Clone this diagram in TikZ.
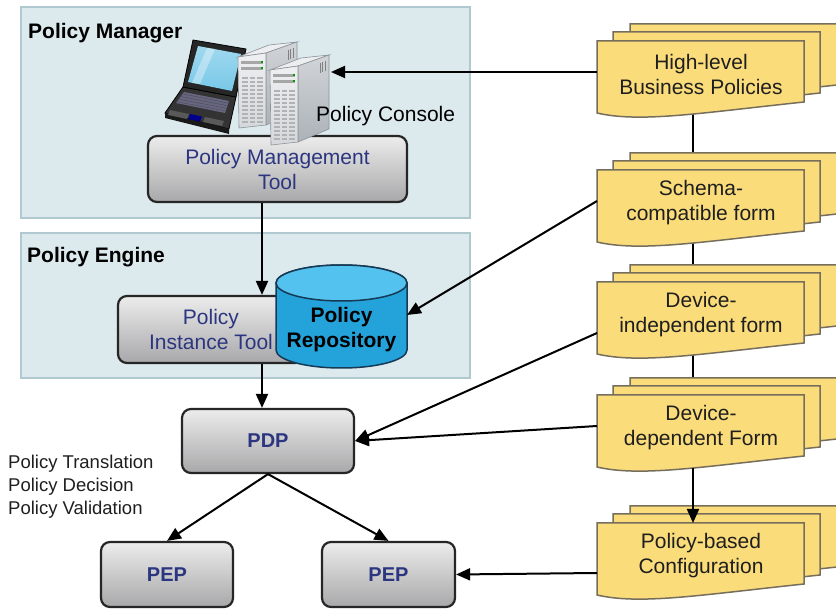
\documentclass[tikz,border=0pt]{standalone}
\usepackage{fontspec}
\setmainfont{Liberation Sans}
\usetikzlibrary{arrows.meta}

\definecolor{groupfill}{RGB}{220,233,237}
\definecolor{groupline}{RGB}{176,201,208}
\definecolor{boxtop}{RGB}{236,236,236}
\definecolor{boxbot}{RGB}{168,168,170}
\definecolor{boxline}{RGB}{38,38,38}
\definecolor{navytext}{RGB}{44,54,128}
\definecolor{docfill}{RGB}{250,220,122}
\definecolor{docline}{RGB}{118,110,92}
\definecolor{cylside}{RGB}{36,162,218}
\definecolor{cyllight}{RGB}{100,204,242}
\definecolor{cyltop}{RGB}{84,194,238}
\definecolor{cylline}{RGB}{22,58,86}
\definecolor{srvfront}{RGB}{212,216,220}
\definecolor{srvside}{RGB}{172,178,184}
\definecolor{srvtop}{RGB}{236,238,240}
\definecolor{srvline}{RGB}{140,146,152}
\definecolor{scrn}{RGB}{120,200,232}

\pgfdeclarelayer{bg}
\pgfsetlayers{bg,main}

\tikzset{
  group/.style={draw=groupline, fill=groupfill, line width=1.2pt, inner sep=0},
  grouplabel/.style={font=\fontsize{21}{25}\selectfont\bfseries, anchor=base west, inner sep=0},
  toolbox/.style={draw=boxline, line width=2.2pt, rounded corners=9pt,
    top color=boxtop, bottom color=boxbot, inner sep=0, align=center,
    text=navytext, font=\fontsize{21}{25}\selectfont},
  doclayer/.style={draw=docline, fill=docfill, line width=1.5pt},
  doctext/.style={align=center, font=\fontsize{21}{25}\selectfont, text=black!88},
  flow/.style={line width=2pt, -{Triangle[length=14pt,width=12pt]}},
  link/.style={line width=2pt},
}

% A stack of three document sheets; #1 name, #2 top edge, #3 text,
% #4 offset of the left connector point below the top edge
\newcommand\docstack[4]{%
  \foreach \dx/\dy in {33/-17,16/-9,0/0}{
    \draw[doclayer, shift={(597+\dx,#2+\dy)}]
      (0,0) -- (207,0) -- (207,61) .. controls (103,72) and (43,82) .. (0,72) -- cycle;
  }
  \node[doctext] (#1) at (701,#2+33) {#3};
  \coordinate (#1-top) at (693,#2);
  \coordinate (#1-back) at (693,#2-17);
  \coordinate (#1-bot) at (693,#2+73);
  \coordinate (#1-w) at (597,#2+#4);
}

\begin{document}
\begin{tikzpicture}[x=1pt,y=-1pt]
\useasboundingbox (0,0) rectangle (836,609);
\clip (0,0) rectangle (836,609);
\begin{pgfonlayer}{bg}
  \fill[white] (0,0) rectangle (836,609);
\end{pgfonlayer}

% group panels
\node[group, minimum width=449pt, minimum height=211pt] (manager) at (245.5,112.5) {};
\node[grouplabel] (managerlabel) at (28,39) {Policy Manager};
\node[group, minimum width=449pt, minimum height=145pt] (engine) at (245.5,305.5) {};
\node[grouplabel] (enginelabel) at (27,263) {Policy Engine};

% document stacks on the right
\docstack{highlevel}{41}{High-level\\Business Policies}{31}
\docstack{schema}{170}{Schema-\\compatible form}{31}
\docstack{indep}{282}{Device-\\independent form}{51}
\docstack{dep}{395}{Device-\\dependent Form}{31}
\docstack{config}{523}{Policy-based\\Configuration}{50}

% links between the document stacks (behind the sheets)
\begin{pgfonlayer}{bg}
  \draw[link] (highlevel-bot) -- (schema-back);
  \draw[link] (schema-bot) -- (indep-back);
  \draw[link] (indep-bot) -- (dep-back);
\end{pgfonlayer}
\draw[flow] (dep-bot) -- (config-top);

% tool boxes
\node[toolbox, minimum width=259pt, minimum height=66pt] (pmt) at (277.5,169) {Policy Management\\Tool};
\node[toolbox, minimum width=186pt, minimum height=67pt] (pit) at (211,329.5) {Policy\\Instance Tool};
\node[toolbox, minimum width=172pt, minimum height=64pt, font=\fontsize{20}{25}\selectfont\bfseries] (pdp) at (268,441) {PDP};
\node[toolbox, minimum width=132pt, minimum height=65pt, font=\fontsize{20}{25}\selectfont\bfseries] (pep1) at (167,574.5) {PEP};
\node[toolbox, minimum width=133pt, minimum height=65pt, font=\fontsize{20}{25}\selectfont\bfseries] (pep2) at (388.5,574.5) {PEP};

% policy repository cylinder
\path[draw=cylline, line width=1.5pt, left color=cylside, middle color=cyllight, right color=cylside]
  (276,283) -- (276,350) arc[start angle=180, end angle=0, x radius=65.5, y radius=18]
  -- (407,283) arc[start angle=0, end angle=-180, x radius=65.5, y radius=18] -- cycle;
\draw[draw=cylline, fill=cyltop, line width=1.5pt] (341.5,283) ellipse[x radius=65.5, y radius=18];
\node[align=center, font=\fontsize{21}{25}\selectfont\bfseries, inner sep=0] (repo) at (341.5,330) {Policy\\Repository};
\coordinate (repo-e) at (407,315);

% laptop
\filldraw[fill=black!80, draw=black, line width=0.8pt] (183,87) -- (236,97) -- (229,129) -- (165,113) -- cycle;
\fill[black!90] (165,113) -- (229,129) -- (229,134) -- (165,118) -- cycle;
\fill[black!45!blue!20!gray] (184,92) -- (229,101) -- (225,113) -- (176,103) -- cycle;
\foreach \k in {0,1,2,3}{
  \draw[black!70, line width=0.4pt] (183-2*\k,94+2.6*\k) -- (228-1*\k,103+2.6*\k);
}
\fill[black!30!gray] (170,110) -- (189,114) -- (187,119) -- (168,115) -- cycle;
\fill[black!30!gray] (205,117) -- (224,121) -- (222,126) -- (203,122) -- cycle;
\fill[blue!55!black] (190,114) -- (202,116.5) -- (200,121.5) -- (188,119) -- cycle;
\filldraw[fill=black!85, draw=black, line width=0.8pt] (193,40) -- (246,49) -- (236,97) -- (183,87) -- cycle;
\shade[top color=scrn!70!white, bottom color=scrn] (198,46) -- (241,54) -- (232,91) -- (188,82) -- cycle;
\fill[white, opacity=0.35] (207,48) -- (215,49) -- (200,84) -- (192,83) -- cycle;

% servers (back one first)
\foreach \sx/\sy/\sh in {0/0/70,32/13/74}{
  \begin{scope}[shift={(\sx,\sy)}]
    \filldraw[fill=srvtop, draw=srvline, line width=0.6pt] (238,57) -- (266,53) -- (297,42) -- (269,45) -- cycle;
    \shade[draw=srvline, line width=0.6pt, top color=srvside!55!white, bottom color=srvside]
      (266,53) -- (297,42) -- (297,42+\sh) -- (266,55+\sh) -- cycle;
    \shade[draw=srvline, line width=0.6pt, top color=srvfront!40!white, bottom color=srvfront]
      (238,57) -- (266,53) -- (266,55+\sh) -- (239,58+\sh) -- cycle;
    \foreach \r in {0,1}{
      \fill[black!35] (241,61+6*\r) rectangle (263,64+6*\r);
      \fill[green!60!black] (260.5,61.5+6*\r) rectangle (262.5,63.5+6*\r);
    }
    \pgfmathsetmacro\rows{int((\sh-22)/4)}
    \foreach \c in {0,1,2}{
      \foreach \r in {1,...,\rows}{
        \fill[black!30] (242+7.5*\c,73+4*\r) rectangle (247.5+7.5*\c,75.4+4*\r);
      }
    }
    \foreach \v in {0,1,2}{
      \draw[black!50, line width=0.6pt] (288+2.5*\v,50-0.8*\v) -- (288+2.5*\v,60-0.8*\v);
    }
  \end{scope}
}
\coordinate (srv) at (331,72);
\node[font=\fontsize{21}{25}\selectfont, anchor=base west, inner sep=0] (console) at (316,122) {Policy Console};

% side notes
\node[anchor=west, align=left, font=\fontsize{18.5}{23}\selectfont, text=black!88, inner sep=0]
  (roles) at (8,487) {Policy Translation\\Policy Decision\\Policy Validation};

% flows
\coordinate (spine) at (262,0);
\draw[flow] (pmt.south -| spine) -- (pit.north -| spine);
\draw[flow] (pit.south -| spine) -- (pdp.north -| spine);
\draw[flow] (pdp.south) -- (pep1.north);
\draw[flow] (pdp.south) -- (pep2.north);
\draw[flow] (highlevel-w) -- (srv);
\draw[flow] (schema-w) -- (repo-e);
\draw[flow] (indep-w) -- (pdp.east);
\draw[flow] (dep-w) -- (pdp.east);
\draw[flow] (config-w) -- (pep2.east);
\end{tikzpicture}
\end{document}
